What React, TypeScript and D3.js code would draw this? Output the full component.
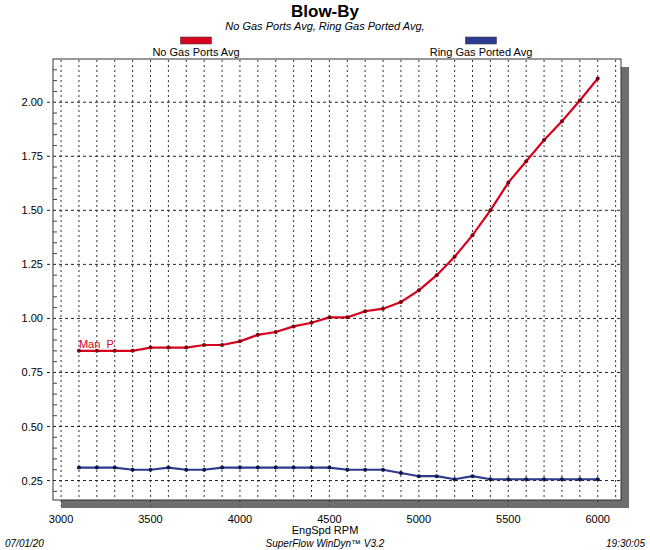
import React, { useRef, useEffect } from 'react';
import * as d3 from 'd3';

const rpm = [
  3100, 3200, 3300, 3400, 3500, 3600, 3700, 3800, 3900, 4000,
  4100, 4200, 4300, 4400, 4500, 4600, 4700, 4800, 4900, 5000,
  5100, 5200, 5300, 5400, 5500, 5600, 5700, 5800, 5900, 6000,
];
const noGasPorts = [
  0.85, 0.85, 0.85, 0.85, 0.865, 0.865, 0.865, 0.877, 0.877, 0.894,
  0.924, 0.937, 0.963, 0.98, 1.005, 1.005, 1.033, 1.045, 1.076, 1.13,
  1.2, 1.285, 1.385, 1.5, 1.628, 1.727, 1.825, 1.912, 2.008, 2.11,
];
const ringGasPorted = [
  0.31, 0.31, 0.31, 0.3, 0.3, 0.31, 0.3, 0.3, 0.31, 0.31,
  0.31, 0.31, 0.31, 0.31, 0.31, 0.3, 0.3, 0.3, 0.285, 0.27,
  0.27, 0.256, 0.27, 0.256, 0.256, 0.256, 0.256, 0.256, 0.256, 0.256,
];
const xTicks = [3000, 3500, 4000, 4500, 5000, 5500, 6000];
const yTicks = [0.25, 0.5, 0.75, 1.0, 1.25, 1.5, 1.75, 2.0];
const seriesNames = ['No Gas Ports Avg', 'Ring Gas Ported Avg'];
const seriesColors = ['#d8001c', '#2b3990'];
const pointColors = ['#7a0010', '#101848'];

const FONT = "'Liberation Sans', Arial, sans-serif";

const BlowByChart: React.FC = () => {
  const svgRef = useRef<SVGSVGElement>(null);

  useEffect(() => {
    const svg = d3.select(svgRef.current);
    svg.selectAll('*').remove();

    const left = 53, right = 621, top = 59, bottom = 500;
    const x = d3.scaleLinear().domain([2955, 6130]).range([left, right]);
    const y = d3.scaleLinear().domain([0.16, 2.2]).range([bottom, top]);

    svg.append('rect').attr('width', 650).attr('height', 550).attr('fill', '#fff');

    // titulos
    svg.append('text').attr('x', 325).attr('y', 17).attr('text-anchor', 'middle')
      .attr('font-family', FONT).attr('font-weight', 'bold').attr('font-size', 17)
      .text('Blow-By');
    svg.append('text').attr('x', 325).attr('y', 30).attr('text-anchor', 'middle')
      .attr('font-family', FONT).attr('font-style', 'italic').attr('font-size', 11)
      .text(seriesNames.join(', ') + ',');

    // leyenda
    const legendX = [196, 481];
    seriesNames.forEach((name, i) => {
      svg.append('rect').attr('x', legendX[i] - 15.5).attr('y', 37).attr('width', 31).attr('height', 7)
        .attr('fill', seriesColors[i]).attr('stroke', '#444').attr('stroke-width', 0.6);
      svg.append('text').attr('x', legendX[i]).attr('y', 56).attr('text-anchor', 'middle')
        .attr('font-family', FONT).attr('font-size', 11).text(name);
    });

    // sombra
    svg.append('rect').attr('x', left + 8).attr('y', top + 8)
      .attr('width', right - left).attr('height', bottom - top).attr('fill', '#6e6e6e');
    svg.append('rect').attr('x', left).attr('y', top)
      .attr('width', right - left).attr('height', bottom - top)
      .attr('fill', '#fff').attr('stroke', '#333').attr('stroke-width', 1);

    const g = svg.append('g');

    // rejilla vertical cada 100 rpm
    const vGrid = d3.range(3000, 6101, 100);
    g.selectAll('line.vg').data(vGrid).enter().append('line')
      .attr('x1', d => x(d)).attr('x2', d => x(d))
      .attr('y1', top + 1).attr('y2', d => (d % 500 === 0 ? bottom + 6 : bottom))
      .attr('stroke', '#333').attr('stroke-width', 1).attr('stroke-dasharray', '2,3');

    // rejilla horizontal
    g.selectAll('line.hg').data(yTicks).enter().append('line')
      .attr('x1', left - 6).attr('x2', right)
      .attr('y1', d => y(d)).attr('y2', d => y(d))
      .attr('stroke', '#222').attr('stroke-width', 1).attr('stroke-dasharray', '3,3');

    // ticks menores
    const minor = d3.range(0.2, 2.16, 0.05).filter(v => Math.abs(v / 0.25 - Math.round(v / 0.25)) > 0.01);
    g.selectAll('line.mt').data(minor).enter().append('line')
      .attr('x1', left).attr('x2', left + 4)
      .attr('y1', d => y(d)).attr('y2', d => y(d))
      .attr('stroke', '#444').attr('stroke-width', 1);

    // etiquetas de ejes
    g.selectAll('text.yl').data(yTicks).enter().append('text')
      .attr('x', left - 10).attr('y', d => y(d) + 4).attr('text-anchor', 'end')
      .attr('font-family', FONT).attr('font-size', 11).text(d => d.toFixed(2));
    g.selectAll('text.xl').data(xTicks).enter().append('text')
      .attr('x', d => x(d)).attr('y', 523).attr('text-anchor', 'middle')
      .attr('font-family', FONT).attr('font-size', 11).text(d => String(d));
    svg.append('text').attr('x', 325).attr('y', 534).attr('text-anchor', 'middle')
      .attr('font-family', FONT).attr('font-size', 11).text('EngSpd RPM');

    // series
    [noGasPorts, ringGasPorted].forEach((vals, i) => {
      const pts = rpm.map((r, j) => [r, vals[j]] as [number, number]);
      const line = d3.line<[number, number]>().x(d => x(d[0])).y(d => y(d[1]));
      g.append('path').datum(pts).attr('d', line).attr('fill', 'none')
        .attr('stroke', seriesColors[i]).attr('stroke-width', 2.2);
      g.selectAll(`circle.s${i}`).data(pts).enter().append('circle')
        .attr('cx', d => x(d[0])).attr('cy', d => y(d[1])).attr('r', 2)
        .attr('fill', pointColors[i]);
    });

    g.append('text').attr('x', x(rpm[0])).attr('y', y(noGasPorts[0]) - 3)
      .attr('font-family', FONT).attr('font-size', 11).attr('fill', seriesColors[0])
      .attr('xml:space', 'preserve').style('white-space', 'pre')
      .text('Man  P');

    // pie
    svg.append('text').attr('x', 5).attr('y', 547)
      .attr('font-family', FONT).attr('font-style', 'italic').attr('font-size', 10).text('07/01/20');
    svg.append('text').attr('x', 325).attr('y', 547).attr('text-anchor', 'middle')
      .attr('font-family', FONT).attr('font-style', 'italic').attr('font-size', 10).text('SuperFlow WinDyn™ V3.2');
    svg.append('text').attr('x', 645).attr('y', 547).attr('text-anchor', 'end')
      .attr('font-family', FONT).attr('font-style', 'italic').attr('font-size', 10).text('19:30:05');
  }, []);

  return <svg ref={svgRef} width={650} height={550} style={{ display: 'block' }} />;
};

export default function App() {
  return (
    <div style={{ position: 'absolute', left: 0, top: 0 }}>
      <BlowByChart />
    </div>
  );
}
